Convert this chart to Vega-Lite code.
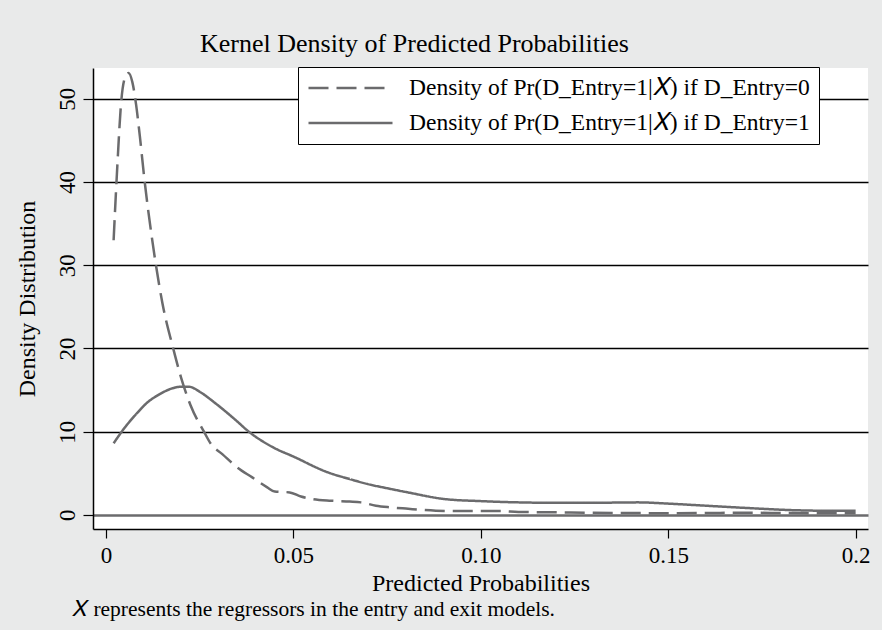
{
  "$schema": "https://vega.github.io/schema/vega-lite/v6.json",
  "background": "#e9eaea",
  "padding": {"left": 14, "top": 31, "right": 15, "bottom": 12},
  "config": {
    "font": "Liberation Serif",
    "view": {"fill": "white", "stroke": null},
    "axis": {"labelFont": "Liberation Serif", "titleFont": "Liberation Serif", "labelColor": "black", "titleColor": "black", "titleFontWeight": "normal", "domainColor": "black", "tickColor": "black", "domainWidth": 1.5, "tickWidth": 1.2}
  },
  "title": {
    "text": "𝑋 represents the regressors in the entry and exit models.",
    "orient": "bottom", "anchor": "start", "fontSize": 21.5, "fontWeight": "normal",
    "font": "Liberation Serif", "color": "black", "offset": 4, "dx": 57
  },
  "vconcat": [
    {
      "width": 775,
      "height": 461,
      "title": {
        "text": "Kernel Density of Predicted Probabilities",
        "anchor": "start", "dx": 185, "fontSize": 26, "fontWeight": "normal",
        "font": "Liberation Serif", "color": "black", "offset": 11
      },
      "data": {
        "values": [
          {"x": 0.002, "d": 33.0, "g": "Density of Pr(D_Entry=1|𝑋) if D_Entry=0"},
          {"x": 0.003, "d": 42.0, "g": "Density of Pr(D_Entry=1|𝑋) if D_Entry=0"},
          {"x": 0.004, "d": 49.5, "g": "Density of Pr(D_Entry=1|𝑋) if D_Entry=0"},
          {"x": 0.005, "d": 52.5, "g": "Density of Pr(D_Entry=1|𝑋) if D_Entry=0"},
          {"x": 0.006, "d": 53.1, "g": "Density of Pr(D_Entry=1|𝑋) if D_Entry=0"},
          {"x": 0.007, "d": 52.0, "g": "Density of Pr(D_Entry=1|𝑋) if D_Entry=0"},
          {"x": 0.008, "d": 49.3, "g": "Density of Pr(D_Entry=1|𝑋) if D_Entry=0"},
          {"x": 0.009, "d": 45.5, "g": "Density of Pr(D_Entry=1|𝑋) if D_Entry=0"},
          {"x": 0.0103, "d": 40.0, "g": "Density of Pr(D_Entry=1|𝑋) if D_Entry=0"},
          {"x": 0.012, "d": 34.0, "g": "Density of Pr(D_Entry=1|𝑋) if D_Entry=0"},
          {"x": 0.0133, "d": 30.0, "g": "Density of Pr(D_Entry=1|𝑋) if D_Entry=0"},
          {"x": 0.015, "d": 25.5, "g": "Density of Pr(D_Entry=1|𝑋) if D_Entry=0"},
          {"x": 0.0179, "d": 20.0, "g": "Density of Pr(D_Entry=1|𝑋) if D_Entry=0"},
          {"x": 0.02, "d": 16.5, "g": "Density of Pr(D_Entry=1|𝑋) if D_Entry=0"},
          {"x": 0.0225, "d": 13.2, "g": "Density of Pr(D_Entry=1|𝑋) if D_Entry=0"},
          {"x": 0.0261, "d": 10.0, "g": "Density of Pr(D_Entry=1|𝑋) if D_Entry=0"},
          {"x": 0.028, "d": 8.5, "g": "Density of Pr(D_Entry=1|𝑋) if D_Entry=0"},
          {"x": 0.031, "d": 7.3, "g": "Density of Pr(D_Entry=1|𝑋) if D_Entry=0"},
          {"x": 0.035, "d": 5.7, "g": "Density of Pr(D_Entry=1|𝑋) if D_Entry=0"},
          {"x": 0.039, "d": 4.5, "g": "Density of Pr(D_Entry=1|𝑋) if D_Entry=0"},
          {"x": 0.043, "d": 3.3, "g": "Density of Pr(D_Entry=1|𝑋) if D_Entry=0"},
          {"x": 0.045, "d": 2.8, "g": "Density of Pr(D_Entry=1|𝑋) if D_Entry=0"},
          {"x": 0.049, "d": 2.7, "g": "Density of Pr(D_Entry=1|𝑋) if D_Entry=0"},
          {"x": 0.052, "d": 2.2, "g": "Density of Pr(D_Entry=1|𝑋) if D_Entry=0"},
          {"x": 0.055, "d": 1.9, "g": "Density of Pr(D_Entry=1|𝑋) if D_Entry=0"},
          {"x": 0.06, "d": 1.7, "g": "Density of Pr(D_Entry=1|𝑋) if D_Entry=0"},
          {"x": 0.065, "d": 1.6, "g": "Density of Pr(D_Entry=1|𝑋) if D_Entry=0"},
          {"x": 0.068, "d": 1.5, "g": "Density of Pr(D_Entry=1|𝑋) if D_Entry=0"},
          {"x": 0.072, "d": 1.1, "g": "Density of Pr(D_Entry=1|𝑋) if D_Entry=0"},
          {"x": 0.076, "d": 0.9, "g": "Density of Pr(D_Entry=1|𝑋) if D_Entry=0"},
          {"x": 0.08, "d": 0.75, "g": "Density of Pr(D_Entry=1|𝑋) if D_Entry=0"},
          {"x": 0.088, "d": 0.5, "g": "Density of Pr(D_Entry=1|𝑋) if D_Entry=0"},
          {"x": 0.095, "d": 0.45, "g": "Density of Pr(D_Entry=1|𝑋) if D_Entry=0"},
          {"x": 0.105, "d": 0.45, "g": "Density of Pr(D_Entry=1|𝑋) if D_Entry=0"},
          {"x": 0.11, "d": 0.35, "g": "Density of Pr(D_Entry=1|𝑋) if D_Entry=0"},
          {"x": 0.12, "d": 0.3, "g": "Density of Pr(D_Entry=1|𝑋) if D_Entry=0"},
          {"x": 0.13, "d": 0.25, "g": "Density of Pr(D_Entry=1|𝑋) if D_Entry=0"},
          {"x": 0.14, "d": 0.22, "g": "Density of Pr(D_Entry=1|𝑋) if D_Entry=0"},
          {"x": 0.15, "d": 0.2, "g": "Density of Pr(D_Entry=1|𝑋) if D_Entry=0"},
          {"x": 0.16, "d": 0.22, "g": "Density of Pr(D_Entry=1|𝑋) if D_Entry=0"},
          {"x": 0.17, "d": 0.25, "g": "Density of Pr(D_Entry=1|𝑋) if D_Entry=0"},
          {"x": 0.18, "d": 0.22, "g": "Density of Pr(D_Entry=1|𝑋) if D_Entry=0"},
          {"x": 0.19, "d": 0.2, "g": "Density of Pr(D_Entry=1|𝑋) if D_Entry=0"},
          {"x": 0.2, "d": 0.18, "g": "Density of Pr(D_Entry=1|𝑋) if D_Entry=0"},
          {"x": 0.002, "d": 8.6, "g": "Density of Pr(D_Entry=1|𝑋) if D_Entry=1"},
          {"x": 0.005, "d": 10.5, "g": "Density of Pr(D_Entry=1|𝑋) if D_Entry=1"},
          {"x": 0.008, "d": 12.1, "g": "Density of Pr(D_Entry=1|𝑋) if D_Entry=1"},
          {"x": 0.011, "d": 13.5, "g": "Density of Pr(D_Entry=1|𝑋) if D_Entry=1"},
          {"x": 0.0143, "d": 14.5, "g": "Density of Pr(D_Entry=1|𝑋) if D_Entry=1"},
          {"x": 0.017, "d": 15.1, "g": "Density of Pr(D_Entry=1|𝑋) if D_Entry=1"},
          {"x": 0.02, "d": 15.4, "g": "Density of Pr(D_Entry=1|𝑋) if D_Entry=1"},
          {"x": 0.022, "d": 15.4, "g": "Density of Pr(D_Entry=1|𝑋) if D_Entry=1"},
          {"x": 0.0253, "d": 14.7, "g": "Density of Pr(D_Entry=1|𝑋) if D_Entry=1"},
          {"x": 0.0289, "d": 13.5, "g": "Density of Pr(D_Entry=1|𝑋) if D_Entry=1"},
          {"x": 0.0348, "d": 11.3, "g": "Density of Pr(D_Entry=1|𝑋) if D_Entry=1"},
          {"x": 0.0378, "d": 10.1, "g": "Density of Pr(D_Entry=1|𝑋) if D_Entry=1"},
          {"x": 0.0446, "d": 8.1, "g": "Density of Pr(D_Entry=1|𝑋) if D_Entry=1"},
          {"x": 0.05, "d": 7.0, "g": "Density of Pr(D_Entry=1|𝑋) if D_Entry=1"},
          {"x": 0.0592, "d": 5.1, "g": "Density of Pr(D_Entry=1|𝑋) if D_Entry=1"},
          {"x": 0.065, "d": 4.3, "g": "Density of Pr(D_Entry=1|𝑋) if D_Entry=1"},
          {"x": 0.0698, "d": 3.7, "g": "Density of Pr(D_Entry=1|𝑋) if D_Entry=1"},
          {"x": 0.075, "d": 3.2, "g": "Density of Pr(D_Entry=1|𝑋) if D_Entry=1"},
          {"x": 0.0805, "d": 2.7, "g": "Density of Pr(D_Entry=1|𝑋) if D_Entry=1"},
          {"x": 0.0903, "d": 1.9, "g": "Density of Pr(D_Entry=1|𝑋) if D_Entry=1"},
          {"x": 0.1, "d": 1.65, "g": "Density of Pr(D_Entry=1|𝑋) if D_Entry=1"},
          {"x": 0.11, "d": 1.5, "g": "Density of Pr(D_Entry=1|𝑋) if D_Entry=1"},
          {"x": 0.12, "d": 1.45, "g": "Density of Pr(D_Entry=1|𝑋) if D_Entry=1"},
          {"x": 0.13, "d": 1.45, "g": "Density of Pr(D_Entry=1|𝑋) if D_Entry=1"},
          {"x": 0.1419, "d": 1.5, "g": "Density of Pr(D_Entry=1|𝑋) if D_Entry=1"},
          {"x": 0.15, "d": 1.35, "g": "Density of Pr(D_Entry=1|𝑋) if D_Entry=1"},
          {"x": 0.16, "d": 1.1, "g": "Density of Pr(D_Entry=1|𝑋) if D_Entry=1"},
          {"x": 0.17, "d": 0.85, "g": "Density of Pr(D_Entry=1|𝑋) if D_Entry=1"},
          {"x": 0.1836, "d": 0.56, "g": "Density of Pr(D_Entry=1|𝑋) if D_Entry=1"},
          {"x": 0.19, "d": 0.5, "g": "Density of Pr(D_Entry=1|𝑋) if D_Entry=1"},
          {"x": 0.2, "d": 0.48, "g": "Density of Pr(D_Entry=1|𝑋) if D_Entry=1"}
        ]
      },
      "mark": {"type": "line", "interpolate": "monotone", "color": "#6b6b6d", "strokeWidth": 2.5, "clip": true},
      "encoding": {
        "x": {
          "field": "x", "type": "quantitative",
          "scale": {"domain": [-0.0035, 0.2033], "nice": false, "zero": false},
          "axis": {
            "values": [0, 0.05, 0.1, 0.15, 0.2],
            "labelExpr": "datum.value == 0 ? '0' : (datum.value == 0.2 ? '0.2' : format(datum.value, '.2f'))",
            "title": "Predicted Probabilities", "titleFontSize": 24, "titlePadding": 4,
            "labelFontSize": 23, "labelPadding": 6, "tickSize": 9, "grid": false,
            "labelFlush": false
          }
        },
        "y": {
          "field": "d", "type": "quantitative",
          "scale": {"domain": [-1.7, 53.7], "nice": false, "zero": false},
          "axis": {
            "values": [0, 10, 20, 30, 40, 50],
            "title": "Density Distribution", "titleFontSize": 24, "titlePadding": 17,
            "labelFontSize": 23, "labelAngle": -90, "labelAlign": "center", "labelBaseline": "bottom",
            "labelPadding": 4, "tickSize": 10, "grid": true,
            "gridColor": {"condition": {"test": "datum.value === 0", "value": "#6b6b6d"}, "value": "black"},
            "gridWidth": {"condition": {"test": "datum.value === 0", "value": 2.5}, "value": 1.3},
            "labelFlush": false
          }
        },
        "strokeDash": {
          "field": "g", "type": "nominal",
          "scale": {
            "domain": ["Density of Pr(D_Entry=1|𝑋) if D_Entry=0", "Density of Pr(D_Entry=1|𝑋) if D_Entry=1"],
            "range": [[20, 8], [1, 0]]
          },
          "legend": {
            "title": null, "orient": "none", "legendX": 205, "legendY": -1,
            "fillColor": "white", "strokeColor": "black", "padding": 9,
            "symbolType": "M-1,0L7,0", "symbolSize": 441, "symbolStrokeWidth": 2.5, "symbolStrokeColor": "#6b6b6d",
            "symbolFillColor": "transparent",
            "labelFontSize": 23.5, "labelFont": "Liberation Serif", "labelColor": "black", "labelOffset": 78,
            "rowPadding": 11, "labelLimit": 700
          }
        }
      }
    }
  ]
}
